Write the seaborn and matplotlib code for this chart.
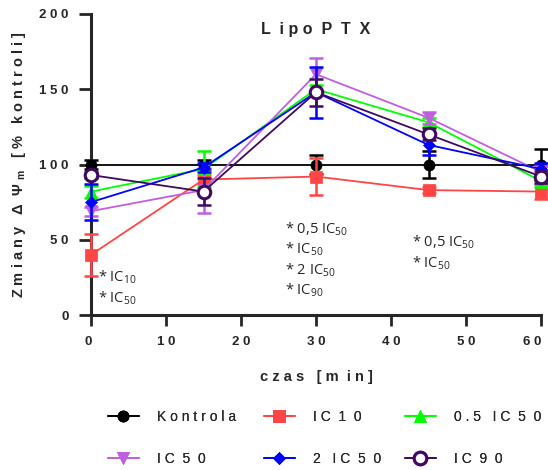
import numpy as np
import pandas as pd
import matplotlib
matplotlib.use("Agg")
import matplotlib.pyplot as plt
import matplotlib.transforms as mtransforms
import seaborn as sns

# ---- data ----
times = [0, 15, 30, 45, 60]
kontrola = [100, 100, 100, 100, 100]
kontrola_err = [3, 3, 6, 9, 10]
ic10 = [40, 90, 92, 83, 82]
ic10_err = [14, 3, 12, 2, 5]
half_ic50 = [82, 97, 150, 128, 89]
half_ic50_err = [4, 12, 3, 3, 4]
ic50 = [69, 83, 160, 131, 95]
ic50_err = [3, 15, 11, 4, 4]
two_ic50 = [75, 98, 148, 113, 97]
two_ic50_err = [12, 3, 17, 7, 4]
ic90 = [93, 82, 148, 120, 92]
ic90_err = [2, 9, 9, 4, 4]

x_ticks = [0, 10, 20, 30, 40, 50, 60]
x_tick_labels = ["0", "1 0", "2 0", "3 0", "4 0", "5 0", "6 0"]
y_ticks = [0, 50, 100, 150, 200]
y_tick_labels = ["0", "5 0", "1 0 0", "1 5 0", "2 0 0"]
labels = ["K o n t r o l a", "I C  1  0", "0 . 5   I C  5  0", "I C  5  0", "2   I C  5  0", "I C  9  0"]

values = [kontrola, ic10, half_ic50, ic50, two_ic50, ic90]
errors = [kontrola_err, ic10_err, half_ic50_err, ic50_err, two_ic50_err, ic90_err]
colors = ["#000000", "#FF4545", "#00FF00", "#BF5FE0", "#0000FF", "#3F0A5F"]
markers = ["o", "s", "^", "v", "D", "o"]
msizes = [8, 9, 9, 9, 6, 9]

sns.set_style("ticks")
plt.rcParams["font.family"] = ["Liberation Sans", "DejaVu Sans"]
plt.rcParams["mathtext.fontset"] = "custom"
plt.rcParams["mathtext.rm"] = "Open Sans"
plt.rcParams["mathtext.bf"] = "Liberation Sans:bold"
plt.rcParams["mathtext.it"] = "Open Sans:italic"

fig = plt.figure(figsize=(5.48, 4.70), dpi=100)
ax = fig.add_axes([91 / 548, 1 - 315 / 470, 450 / 548, 301 / 470])

for i, (vals, errs) in enumerate(zip(values, errors)):
    df = pd.DataFrame({"t": times, "v": vals})
    open_marker = i == 5
    sns.lineplot(data=df, x="t", y="v", ax=ax, color=colors[i], marker=markers[i],
                 markersize=msizes[i], linewidth=1.3, label=labels[i],
                 markerfacecolor="white" if open_marker else colors[i],
                 markeredgecolor=colors[i], markeredgewidth=2.2 if open_marker else 0.5,
                 zorder=3 + i, clip_on=False)
    ax.errorbar(times, vals, yerr=errs, fmt="none", ecolor=colors[i], elinewidth=1.8,
                capsize=5, capthick=1.8, zorder=2 + i, clip_on=False)

ax.set_xlim(0, 60)
ax.set_ylim(0, 200)
ax.set_xticks(x_ticks)
ax.set_xticklabels(x_tick_labels, fontweight="bold", fontsize=9.5)
ax.set_yticks(y_ticks)
ax.set_yticklabels(y_tick_labels, fontweight="bold", fontsize=9.5)
ax.tick_params(axis="y", width=2, length=9, direction="out", pad=7)
ax.tick_params(axis="x", width=2, length=8, direction="out", pad=7)
for s in ["top", "right"]:
    ax.spines[s].set_visible(False)
for s in ["left", "bottom"]:
    ax.spines[s].set_linewidth(2.2)

# shift the outermost x tick labels slightly left, as in the reference
xt = ax.get_xticklabels()
xt[0].set_transform(xt[0].get_transform() + mtransforms.ScaledTranslation(-3 / 100, 0, fig.dpi_scale_trans))
xt[-1].set_transform(xt[-1].get_transform() + mtransforms.ScaledTranslation(-9 / 100, 0, fig.dpi_scale_trans))

ax.set_xlabel("c z a s   [ m  i n ]", fontweight="bold", fontsize=10.5, labelpad=16)
ax.set_ylabel(r"Z m i a n y   Δ  Ψ $_{\mathbf{m}}$   [ %   k o n t r o l i ]",
              fontweight="bold", fontsize=10.5, labelpad=8)
ax.set_title("L  i p o  P  T  X", fontweight="bold", fontsize=11.5, y=0.905)

ann_kw = dict(fontsize=10.5, family=["Open Sans", "DejaVu Sans"], va="center", ha="left")
ax.text(1.0, 25, r"* IC$_{10}$", **ann_kw)
ax.text(1.0, 11, r"* IC$_{50}$", **ann_kw)
for j, t in enumerate([r"* 0,5 IC$_{50}$", r"* IC$_{50}$", r"* 2 IC$_{50}$", r"* IC$_{90}$"]):
    ax.text(25.9, 57 - j * 13.5, t, **ann_kw)
for j, t in enumerate([r"* 0,5 IC$_{50}$", r"* IC$_{50}$"]):
    ax.text(42.8, 48 - j * 13.5, t, **ann_kw)

h, l = ax.get_legend_handles_labels()
ax.get_legend().remove()
col_x = [108, 264, 405]
for c in range(3):
    idx = [c, c + 3]
    leg = fig.legend([h[k] for k in idx], [l[k] for k in idx], ncol=1,
                     loc="center left", bbox_to_anchor=(col_x[c] / 548, 1 - 438 / 470),
                     frameon=False, fontsize=10, handlelength=2.2, handletextpad=1.35,
                     labelspacing=2.0, borderpad=0, borderaxespad=0)
    fig.add_artist(leg)

fig.savefig("out.png", dpi=100)
